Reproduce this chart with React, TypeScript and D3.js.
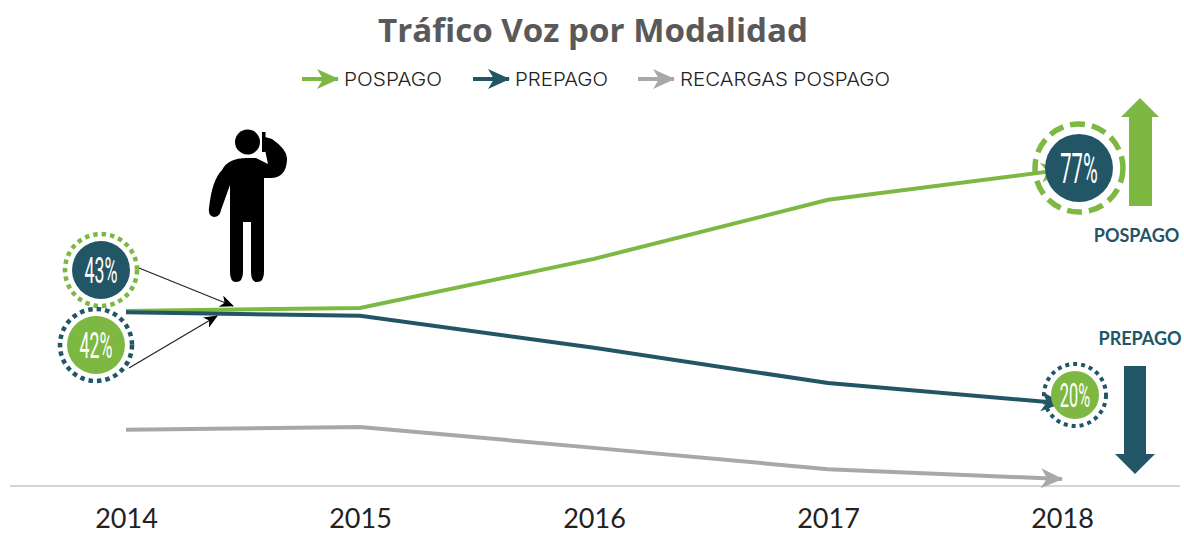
import * as d3 from 'd3';
import { useRef, useEffect } from 'react';

const years = ['2014', '2015', '2016', '2017', '2018'];
const pospago = [42.7, 43.4, 55.4, 69.8, 77.1];
const prepago = [42.4, 41.5, 33.7, 25.1, 20.2];
const recargas = [13.7, 14.4, 9.3, 4.1, 1.7];

const GREEN = '#7db842';
const TEAL = '#225566';
const GRAY = '#a8a8a8';

const seriesNames = ['POSPAGO', 'PREPAGO', 'RECARGAS POSPAGO'];
const seriesColors = [GREEN, TEAL, GRAY];
const legendArrowX = [302, 473, 638];
const legendWidths = [98, 93, 210];

const PERSON =
  'M222 170 Q228 158 247 158 L256 158 L268 164 L265 150 L265 137 L272 139 Q288 150 287 160 Q286 177 272 178 L264 178 ' +
  'L264 272 Q264 282 257 282 Q251 282 251 272 L251 222 L243 222 L243 272 Q243 282 236 282 Q230 282 230 272 L230 185 ' +
  'L221 210 Q220 217 214 217 Q208 216 209 208 Q212 180 222 170 Z';

export default function App() {
  const svgRef = useRef<SVGSVGElement>(null);

  useEffect(() => {
    const svg = d3.select(svgRef.current);
    svg.selectAll('*').remove();

    const x = d3.scalePoint().domain(years).range([126, 1062]);
    const y = d3.scaleLinear().domain([0, 100]).range([486, 76]);

    const defs = svg.append('defs');
    seriesColors.forEach((c, i) => {
      defs.append('marker')
        .attr('id', `head-${i}`)
        .attr('markerUnits', 'userSpaceOnUse')
        .attr('viewBox', '0 0 22 22')
        .attr('markerWidth', 22)
        .attr('markerHeight', 22)
        .attr('refX', 21)
        .attr('refY', 11)
        .attr('orient', 'auto')
        .append('path')
        .attr('d', 'M0 1 L22 11 L0 21 L6 11 Z')
        .attr('fill', c);
    });
    defs.append('marker')
      .attr('id', 'head-thin')
      .attr('markerUnits', 'userSpaceOnUse')
      .attr('viewBox', '0 0 14 12')
      .attr('markerWidth', 14)
      .attr('markerHeight', 12)
      .attr('refX', 13)
      .attr('refY', 6)
      .attr('orient', 'auto')
      .append('path')
      .attr('d', 'M0 0 L14 6 L0 12 L4 6 Z')
      .attr('fill', '#000');

    // title
    svg.append('text')
      .attr('x', 593)
      .attr('y', 42)
      .attr('text-anchor', 'middle')
      .attr('font-family', 'Open Sans')
      .attr('font-weight', 700)
      .attr('font-size', 33)
      .attr('textLength', 430)
      .attr('lengthAdjust', 'spacingAndGlyphs')
      .attr('fill', '#595959')
      .text('Tráfico Voz por Modalidad');

    // legend
    const legend = svg.append('g');
    seriesNames.forEach((name, i) => {
      const x0 = legendArrowX[i];
      legend.append('line')
        .attr('x1', x0)
        .attr('x2', x0 + 36)
        .attr('y1', 79)
        .attr('y2', 79)
        .attr('stroke', seriesColors[i])
        .attr('stroke-width', 4)
        .attr('marker-end', `url(#head-${i})`);
      legend.append('text')
        .attr('x', x0 + 42)
        .attr('y', 86)
        .attr('font-family', 'Inter')
        .attr('font-weight', 300)
        .attr('font-size', 19)
        .attr('textLength', legendWidths[i])
        .attr('lengthAdjust', 'spacingAndGlyphs')
        .attr('fill', '#222')
        .text(name);
    });

    // x axis
    const axis = svg.append('g')
      .attr('transform', 'translate(0,486)')
      .call(d3.axisBottom(x).tickSize(0).tickPadding(23));
    axis.select('.domain').remove();
    axis.append('line')
      .attr('x1', 10)
      .attr('x2', 1180)
      .attr('stroke', '#d4d4d4')
      .attr('stroke-width', 2);
    axis.selectAll('text')
      .attr('font-family', 'Lato')
      .attr('font-size', 27)
      .attr('fill', '#222');

    // dashed rings go under the lines
    const ring = (cx: number, cy: number, r: number, color: string, w: number, dash: string) =>
      svg.append('circle')
        .attr('cx', cx)
        .attr('cy', cy)
        .attr('r', r)
        .attr('fill', 'none')
        .attr('stroke', color)
        .attr('stroke-width', w)
        .attr('stroke-dasharray', dash);
    ring(101, 270, 36, GREEN, 4.5, '4.5 4');
    ring(96, 345, 36, TEAL, 4.5, '4.5 4');
    ring(1079, 168, 44, GREEN, 5.5, '15 7');
    ring(1075, 395, 31, TEAL, 4, '4 4');

    const line = d3.line<number>()
      .x((_, i) => x(years[i]) as number)
      .y((d) => y(d));

    [recargas, pospago, prepago].forEach((values, i) => {
      const idx = [2, 0, 1][i];
      svg.append('path')
        .attr('d', line(values))
        .attr('fill', 'none')
        .attr('stroke', seriesColors[idx])
        .attr('stroke-width', 4)
        .attr('marker-end', `url(#head-${idx})`);
    });

    // thin arrows from the bubbles
    [[139, 268, 233, 306], [129, 368, 217, 316]].forEach(([x1, y1, x2, y2]) => {
      svg.append('line')
        .attr('x1', x1)
        .attr('y1', y1)
        .attr('x2', x2)
        .attr('y2', y2)
        .attr('stroke', '#222')
        .attr('stroke-width', 1.2)
        .attr('marker-end', 'url(#head-thin)');
    });

    // filled bubbles
    const bubble = (cx: number, cy: number, r: number, color: string, label: string, size: number) => {
      svg.append('circle')
        .attr('cx', cx)
        .attr('cy', cy)
        .attr('r', r)
        .attr('fill', color);
      svg.append('text')
        .attr('transform', `translate(${cx},${cy + size * 0.36}) scale(0.48,1)`)
        .attr('text-anchor', 'middle')
        .attr('font-family', 'Roboto')
        .attr('font-weight', 400)
        .attr('font-size', size)
        .attr('fill', '#fff')
        .text(label);
    };
    bubble(101, 270, 29, TEAL, '43%', 37);
    bubble(96, 345, 29, GREEN, '42%', 37);
    bubble(1079, 168, 34, TEAL, '77%', 42);
    bubble(1075, 395, 24, GREEN, '20%', 34);

    // big side arrows
    svg.append('path')
      .attr('d', 'M1129 206 L1129 117 L1121 117 L1140 98 L1159 117 L1152 117 L1152 206 Z')
      .attr('fill', GREEN);
    svg.append('path')
      .attr('d', 'M1124 366 L1146 366 L1146 454 L1155 454 L1135 474 L1115 454 L1124 454 Z')
      .attr('fill', TEAL);

    const sideLabel = (tx: number, ty: number, label: string) =>
      svg.append('text')
        .attr('x', tx)
        .attr('y', ty)
        .attr('text-anchor', 'middle')
        .attr('font-family', 'Lato')
        .attr('font-weight', 700)
        .attr('font-size', 18)
        .attr('fill', TEAL)
        .text(label);
    sideLabel(1136.5, 242, 'POSPAGO');
    sideLabel(1140, 345, 'PREPAGO');

    // person on the phone
    svg.append('circle').attr('cx', 247.5).attr('cy', 142).attr('r', 12.5).attr('fill', '#000');
    svg.append('rect').attr('x', 262).attr('y', 132).attr('width', 3.5).attr('height', 20).attr('fill', '#000');
    svg.append('path').attr('d', PERSON).attr('fill', '#000');
  }, []);

  return <svg ref={svgRef} width={1184} height={536} style={{ position: 'absolute', left: 0, top: 0 }} />;
}
